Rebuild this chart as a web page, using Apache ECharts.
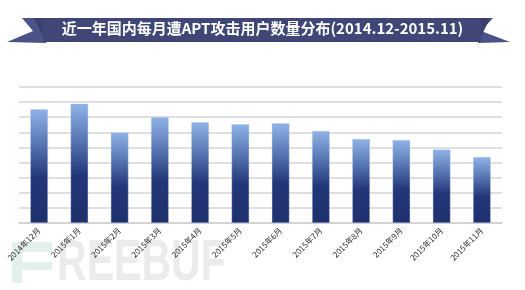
<!DOCTYPE html>
<html><head><meta charset="utf-8">
<script src="https://cdn.jsdelivr.net/npm/echarts@6/dist/echarts.min.js"></script>
<style>html,body{margin:0;padding:0;background:#fff}#c{width:525px;height:290px}</style>
</head><body><div id="c"></div>
<script>
var titleText = '近一年国内每月遭APT攻击用户数量分布(2014.12-2015.11)';
var categories = ['2014年12月','2015年1月','2015年2月','2015年3月','2015年4月','2015年5月','2015年6月','2015年7月','2015年8月','2015年9月','2015年10月','2015年11月'];
var values = [7.53, 7.9, 6.0, 7.0, 6.67, 6.54, 6.6, 6.09, 5.56, 5.5, 4.86, 4.37];

var chart = echarts.init(document.getElementById('c'), null, {renderer:'canvas'});
chart.setOption({
  animation: false,
  grid: {left: 19, right: 23, top: 87, bottom: 67},
  xAxis: {
    type: 'category', data: categories,
    axisLine: {lineStyle: {color: '#cfcfcf', width: 1.5}},
    axisTick: {show: false},
    axisLabel: {rotate: 45, fontSize: 8, color: '#2a2a2a', margin: 6, interval: 0, fontFamily: 'Noto Sans CJK SC'}
  },
  yAxis: {
    type: 'value', min: 0, max: 9, interval: 1,
    axisLabel: {show: false}, axisLine: {show: false}, axisTick: {show: false},
    splitLine: {lineStyle: {color: '#d4d4d4', width: 1.5}}
  },
  series: [{
    type: 'bar', data: values, barWidth: '44%',
    itemStyle: {
      color: new echarts.graphic.LinearGradient(0, 0, 0, 1, [
        {offset: 0, color: '#8fb3e6'},
        {offset: 0.3, color: '#5877b4'},
        {offset: 0.6, color: '#233679'},
        {offset: 1, color: '#1f306d'}
      ]),
      borderColor: 'rgba(180,200,235,0.6)', borderWidth: 0.6
    }
  }],
  graphic: [
    {type: 'polygon', shape: {points: [[22,18],[46,18],[46,43],[7,42],[33,31]]}, style: {fill: '#4b5288'}, z: 10},
    {type: 'polygon', shape: {points: [[34,18],[46,18],[46,43]]}, style: {fill: '#3a416f'}, z: 11},
    {type: 'polygon', shape: {points: [[493,18],[478,18],[478,43],[510,42],[481,31]]}, style: {fill: '#4b5288'}, z: 10},
    {type: 'polygon', shape: {points: [[490,18],[478,18],[478,43]]}, style: {fill: '#3a416f'}, z: 11},
    {type: 'rect', shape: {x: 43, y: 18, width: 438, height: 24}, style: {fill: '#404776'}, z: 12},
    {type: 'text', left: 'center', top: 21, z: 13,
      style: {text: titleText, fill: '#ffffff', fontSize: 15, fontWeight: 'bold', fontFamily: 'Noto Sans CJK SC'}},
    {type: 'rect', shape: {x: 12, y: 242, width: 40, height: 41}, style: {fill: '#e4f1ea'}, z: -1},
    {type: 'rect', shape: {x: 22, y: 252, width: 30, height: 10}, style: {fill: '#ffffff'}, z: -1},
    {type: 'rect', shape: {x: 22, y: 270, width: 30, height: 13}, style: {fill: '#ffffff'}, z: -1},
    {type: 'text', x: 57, y: 236, scaleX: 0.72, z: -1,
      style: {text: 'REEBUF', fill: '#ebebeb', fontSize: 57, fontWeight: 'bold', fontFamily: 'Liberation Sans'}}
  ]
});
</script></body></html>
